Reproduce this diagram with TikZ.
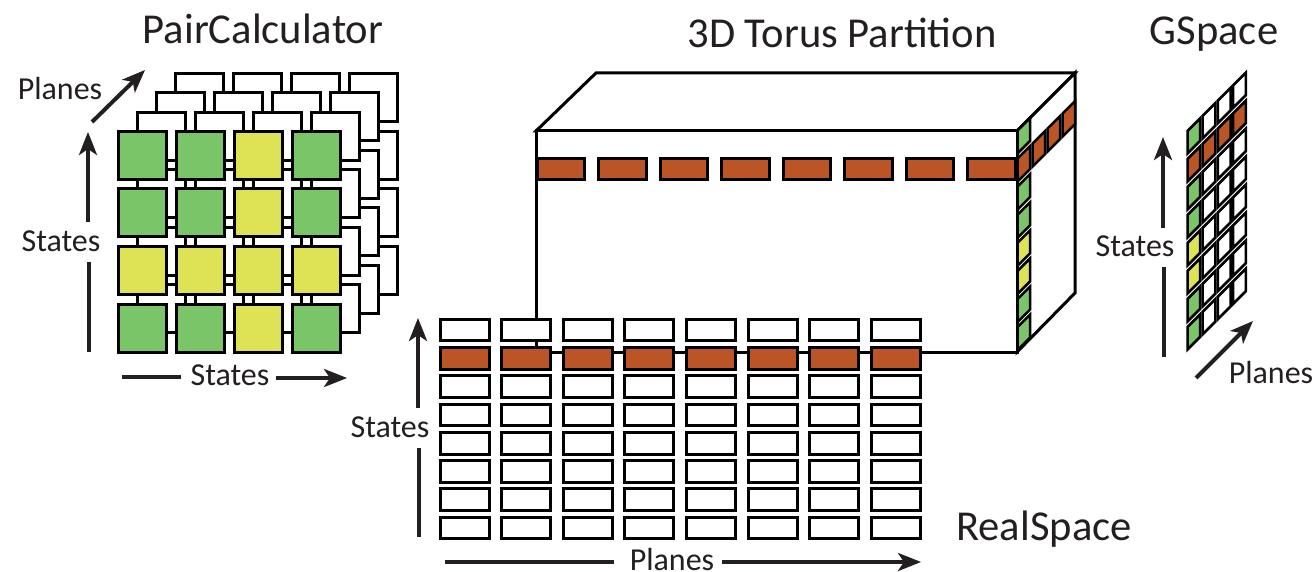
\documentclass[tikz,border=0pt]{standalone}
\usepackage{fontspec}
\setmainfont{Carlito}
\usetikzlibrary{arrows.meta}
\definecolor{cellgreen}{RGB}{122,197,103}
\definecolor{cellyellow}{RGB}{221,227,85}
\definecolor{cellorange}{RGB}{188,85,38}
\definecolor{inkcol}{RGB}{35,31,32}
\tikzset{
  titlelabel/.style={inner sep=0pt, font=\fontsize{42.6}{44}\selectfont, text=inkcol},
  axislabel/.style={inner sep=0pt, font=\fontsize{32}{34}\selectfont, text=inkcol},
  pccell/.style={rectangle, draw=black, line width=3pt, fill=white, minimum width=48pt, minimum height=48pt, inner sep=0pt},
  rscell/.style={rectangle, draw=black, line width=3pt, fill=white, minimum width=49pt, minimum height=21.7pt, inner sep=0pt},
  tocell/.style={rectangle, draw=black, line width=3pt, fill=cellorange, minimum width=47.5pt, minimum height=21.5pt, inner sep=0pt},
  skewcell/.style={draw=black, line width=2.5pt, line join=miter},
  boxedge/.style={draw=black, line width=3pt, line join=miter},
  bigarrow/.style={-{Stealth[length=23pt, width=18pt, inset=6pt]}, line width=4pt, draw=inkcol},
  plainarrow/.style={line width=4pt, draw=inkcol},
}
\begin{document}
\begin{tikzpicture}[x=1pt, y=-1pt]
  \useasboundingbox (0,0) rectangle (1315,572);

  % ── PairCalculator: back planes, then front plane ──
  \foreach \p in {3,2,1} {
    \foreach \i in {0,1,2,3} {
      \foreach \j in {0,1,2,3} {
        \node[pccell] (pc\p-\i-\j) at ({142+58*\i+19.3*\p},{155.5+57.5*\j-19.3*\p}) {};
      }
    }
  }
  \foreach \j/\rowcols in {0/{cellgreen,cellgreen,cellyellow,cellgreen},
                           1/{cellgreen,cellgreen,cellyellow,cellgreen},
                           2/{cellyellow,cellyellow,cellyellow,cellyellow},
                           3/{cellgreen,cellgreen,cellyellow,cellgreen}} {
    \foreach \c [count=\i from 0] in \rowcols {
      \node[pccell, fill=\c] (pc0-\i-\j) at ({142+58*\i},{155.5+57.5*\j}) {};
    }
  }

  % ── Torus box ──
  \coordinate (boxA) at (536,131);
  \coordinate (boxB) at (596,73);
  \coordinate (boxC) at (1075,73);
  \coordinate (boxD) at (1017,131);
  \coordinate (boxE) at (1017,352);
  \coordinate (boxF) at (536,352);
  \coordinate (boxG) at (1075,293);
  \draw[boxedge, fill=white] (boxA) -- (boxB) -- (boxC) -- (boxD) -- cycle;
  \draw[boxedge, fill=white] (boxD) -- (boxC) -- (boxG) -- (boxE) -- cycle;
  \draw[boxedge, fill=white] (boxA) -- (boxD) -- (boxE) -- (boxF) -- cycle;
  \foreach \i in {0,...,7} {
    \node[tocell] (to-\i) at ({561+61.5*\i},169) {};
  }
  \foreach \c [count=\k from 0] in {cellgreen,cellorange,cellgreen,cellgreen,cellyellow,cellyellow,cellgreen,cellgreen} {
    \draw[skewcell, fill=\c] (1017.5,{130.5+28.1*\k}) -- ++(12.5,-12.5) -- ++(0,23) -- ++(-12.5,12.5) -- cycle;
  }
  \foreach \i in {1,2,3} {
    \draw[skewcell, fill=cellorange] ({1017.5+15*\i},{158.6-15*\i}) -- ++(12.5,-12.5) -- ++(0,23) -- ++(-12.5,12.5) -- cycle;
  }

  % ── RealSpace ──
  \foreach \i in {0,...,7} {
    \foreach \j in {0,...,7} {
      \ifnum\j=1
        \node[rscell, fill=cellorange] (rs-\i-\j) at ({464.5+61.6*\i},{330+28.3*\j}) {};
      \else
        \node[rscell] (rs-\i-\j) at ({464.5+61.6*\i},{330+28.3*\j}) {};
      \fi
    }
  }

  % ── GSpace ──
  \foreach \c [count=\k from 0] in {cellgreen,cellorange,cellgreen,cellgreen,cellyellow,cellyellow,cellgreen,cellgreen} {
    \foreach \i in {0,1,2,3} {
      \ifnum\i=0
        \draw[skewcell, fill=\c] ({1187.5+15.2*\i},{131+28*\k-15.2*\i}) -- ++(12.7,-12.7) -- ++(0,22.5) -- ++(-12.7,12.7) -- cycle;
      \else
        \ifnum\k=1
          \draw[skewcell, fill=cellorange] ({1187.5+15.2*\i},{131+28*\k-15.2*\i}) -- ++(12.7,-12.7) -- ++(0,22.5) -- ++(-12.7,12.7) -- cycle;
        \else
          \draw[skewcell, fill=white] ({1187.5+15.2*\i},{131+28*\k-15.2*\i}) -- ++(12.7,-12.7) -- ++(0,22.5) -- ++(-12.7,12.7) -- cycle;
        \fi
      \fi
    }
  }

  % ── Titles ──
  \node[titlelabel] (pctitle) at (263,29) {PairCalculator};
  \node[titlelabel] (totitle) at (842,33) {3D Torus Partition};
  \node[titlelabel] (gstitle) at (1214,34) {GSpace};
  \node[titlelabel] (rstitle) at (1044,529) {RealSpace};

  % ── Axis labels ──
  \node[axislabel] (pcplanes) at (60,89) {Planes};
  \node[axislabel] (pcstatesv) at (61,241) {States};
  \node[axislabel] (pcstatesh) at (230,375) {States};
  \node[axislabel] (rsstates) at (390,427) {States};
  \node[axislabel] (rsplanes) at (672,559.5) {Planes};
  \node[axislabel] (gsstates) at (1135,246) {States};
  \node[axislabel] (gsplanes) at (1271,373) {Planes};

  % ── Arrow ends ──
  \coordinate (pcA) at (92,122);     \coordinate (pcB) at (145,70);
  \coordinate (pcC) at (89,352);     \coordinate (pcD) at (89,262);
  \coordinate (pcE) at (88,222);     \coordinate (pcF) at (88,132);
  \coordinate (pcG) at (122,377);    \coordinate (pcH) at (181,377);
  \coordinate (pcI) at (276,378);    \coordinate (pcJ) at (347,378);
  \coordinate (rsA) at (419,537);    \coordinate (rsB) at (419,448);
  \coordinate (rsC) at (418,408);    \coordinate (rsD) at (418,318);
  \coordinate (rsE) at (445,562);    \coordinate (rsF) at (614,562);
  \coordinate (rsG) at (722,562);    \coordinate (rsH) at (921,562);
  \coordinate (gsA) at (1164,357);   \coordinate (gsB) at (1164,267);
  \coordinate (gsC) at (1163,228);   \coordinate (gsD) at (1163,137);
  \coordinate (gsE) at (1196,378);   \coordinate (gsF) at (1253,321);

  % ── Arrows ──
  \draw[bigarrow] (pcA) -- (pcB);
  \draw[plainarrow] (pcC) -- (pcD);
  \draw[bigarrow] (pcE) -- (pcF);
  \draw[plainarrow] (pcG) -- (pcH);
  \draw[bigarrow] (pcI) -- (pcJ);
  \draw[plainarrow] (rsA) -- (rsB);
  \draw[bigarrow] (rsC) -- (rsD);
  \draw[plainarrow] (rsE) -- (rsF);
  \draw[bigarrow] (rsG) -- (rsH);
  \draw[plainarrow] (gsA) -- (gsB);
  \draw[bigarrow] (gsC) -- (gsD);
  \draw[bigarrow] (gsE) -- (gsF);

\end{tikzpicture}
\end{document}
